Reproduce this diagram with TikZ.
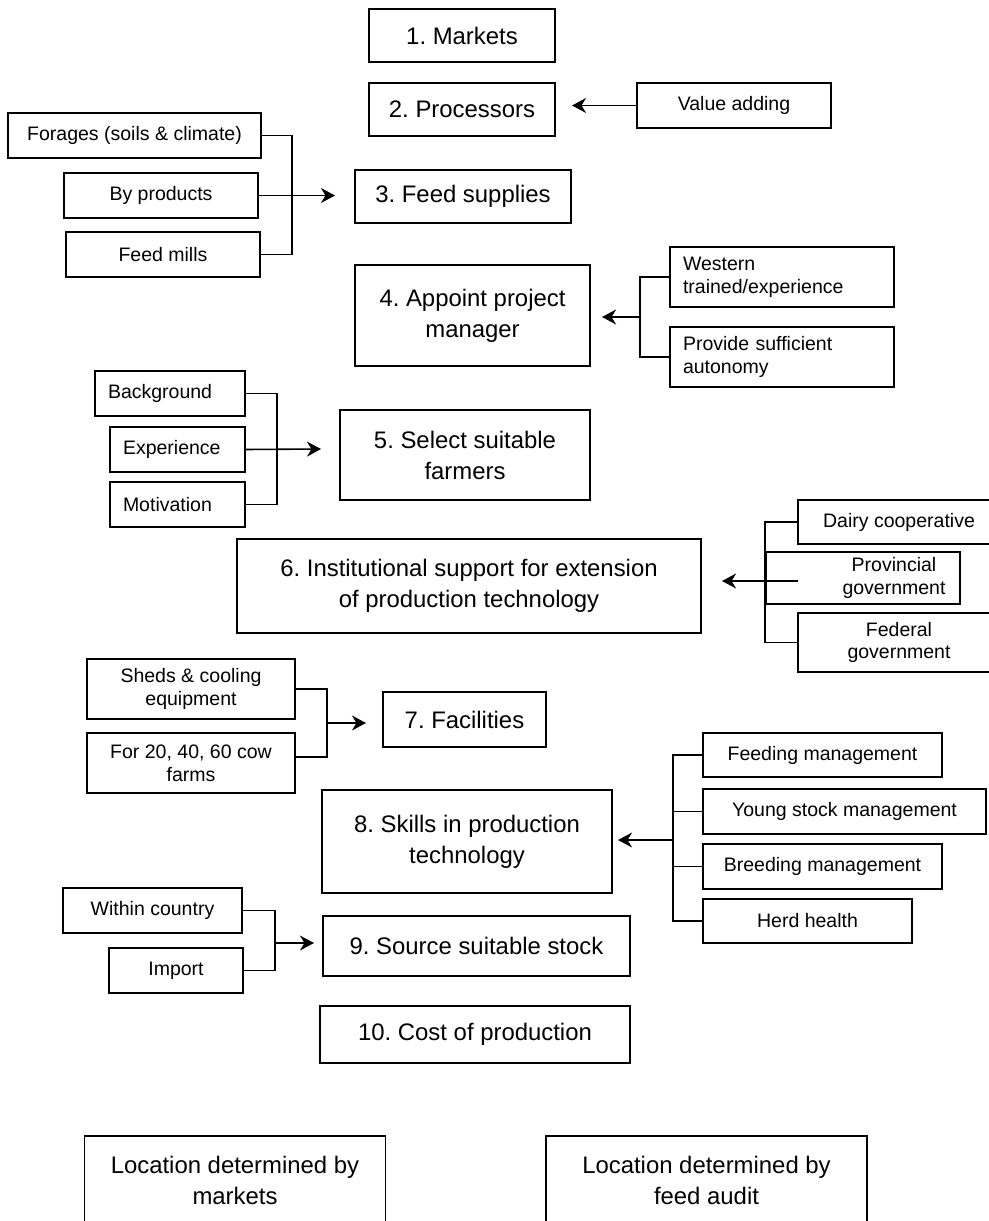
\documentclass[tikz,border=0pt]{standalone}
\usepackage{fontspec}
\setmainfont{Liberation Sans}
\usetikzlibrary{arrows.meta}
\frenchspacing

\begin{document}
\begin{tikzpicture}[
	mainbox/.style={rectangle, draw, line width=1pt, align=center, inner sep=0pt, font=\fontsize{13.6}{17.6}\selectfont},
	subbox/.style={rectangle, draw, line width=1pt, align=center, inner sep=0pt, font=\fontsize{11.1}{13}\selectfont},
	leftbox/.style={subbox, align=left, inner xsep=0.26cm},
	link/.style={line width=0.9pt},
	arr/.style={line width=0.9pt, -{Stealth[length=8pt,width=8.5pt]}}
	]
			\clip (0,0) rectangle (19.78,-24.42);
			
			\node[mainbox, minimum width=3.72cm, minimum height=1.06cm] (markets) at (9.24,-0.71) {1. Markets};
			
			\node[mainbox, minimum width=3.72cm, minimum height=1.06cm] (proc) at (9.24,-2.19) {2. Processors};
			\node[subbox, minimum width=3.88cm, minimum height=0.90cm] (value) at (14.68,-2.11) {Value adding};
			\coordinate (proctip) at (11.44,-2.11);
			\draw[arr] (value.west) -- (proctip);
			
			\node[subbox, minimum width=5.06cm, minimum height=0.90cm] (forages) at (2.69,-2.71) {Forages (soils \& climate)};
			\node[subbox, minimum width=3.88cm, minimum height=0.90cm] (byprod) at (3.22,-3.91) {By products};
			\node[subbox, minimum width=3.88cm, minimum height=0.90cm] (mills) at (3.26,-5.09) {Feed mills};
			\node[mainbox, minimum width=4.32cm, minimum height=1.06cm] (feed) at (9.26,-3.93) {3. Feed supplies};
			\coordinate (feedspine) at (5.84,-3.91);
			\coordinate (feedtip) at (6.70,-3.91);
			\draw[link] (forages.east) -| (feedspine) |- (mills.east);
			\draw[arr] (byprod.east) -- (feedtip);
			
			\node[mainbox, minimum width=4.70cm, minimum height=2.02cm] (manager) at (9.45,-6.31) {4. Appoint project\\manager};
			\node[leftbox, text width=3.96cm, minimum height=1.20cm] (western) at (15.64,-5.54) {Western\\trained/experience};
			\node[leftbox, text width=3.96cm, minimum height=1.20cm] (autonomy) at (15.64,-7.14) {Provide sufficient\\autonomy};
			\coordinate (mgrspine) at (12.80,-6.34);
			\coordinate (mgrtip) at (12.04,-6.34);
			\draw[link] (western.west) -| (mgrspine) |- (autonomy.west);
			\draw[arr] (mgrspine) -- (mgrtip);
			
			\node[leftbox, text width=2.48cm, minimum height=0.90cm] (background) at (3.40,-7.87) {Background};
			\node[leftbox, text width=2.18cm, minimum height=0.90cm] (experience) at (3.55,-8.99) {Experience};
			\node[leftbox, text width=2.18cm, minimum height=0.90cm] (motivation) at (3.55,-10.09) {Motivation};
			\node[mainbox, minimum width=5.00cm, minimum height=1.80cm] (farmers) at (9.30,-9.10) {5. Select suitable\\farmers};
			\coordinate (farmspine) at (5.54,-8.98);
			\coordinate (farmtip) at (6.42,-8.98);
			\draw[link] (background.east) -| (farmspine) |- (motivation.east);
			\draw[arr] (experience.east) -- (farmtip);
			
			\node[mainbox, minimum width=9.28cm, minimum height=1.88cm] (support) at (9.38,-11.72) {6. Institutional support for extension\\of production technology};
			\node[subbox, minimum width=4.04cm, minimum height=0.88cm] (dairy) at (17.98,-10.44) {Dairy cooperative};
			\node[subbox, minimum width=3.88cm, minimum height=1.04cm] (provincial) at (17.26,-11.56) {\hspace*{1.24cm}Provincial\\\hspace*{1.24cm}government};
			\node[subbox, minimum width=4.04cm, minimum height=1.18cm] (federal) at (17.98,-12.85) {Federal\\government};
			\coordinate (suppspine) at (15.30,-11.62);
			\coordinate (suppstart) at (15.96,-11.62);
			\coordinate (supptip) at (14.44,-11.62);
			\draw[link] (dairy.west) -| (suppspine) |- (federal.west);
			\draw[arr] (suppstart) -- (supptip);
			
			\node[subbox, minimum width=4.16cm, minimum height=1.20cm] (sheds) at (3.82,-13.78) {Sheds \& cooling\\equipment};
			\node[subbox, minimum width=4.16cm, minimum height=1.20cm] (cows) at (3.82,-15.26) {For 20, 40, 60 cow\\farms};
			\node[mainbox, minimum width=3.26cm, minimum height=1.10cm] (facilities) at (9.29,-14.39) {7. Facilities};
			\coordinate (facspine) at (6.54,-14.46);
			\coordinate (factip) at (7.32,-14.46);
			\draw[link] (sheds.east) -| (facspine) |- ([yshift=0.12cm]cows.east);
			\draw[arr] (facspine) -- (factip);
			
			\node[mainbox, minimum width=5.80cm, minimum height=2.06cm] (skills) at (9.34,-16.83) {8. Skills in production\\technology};
			\node[subbox, minimum width=4.78cm, minimum height=0.88cm] (feeding) at (16.45,-15.10) {Feeding management};
			\node[subbox, minimum width=5.66cm, minimum height=0.90cm] (young) at (16.89,-16.23) {Young stock management};
			\node[subbox, minimum width=4.78cm, minimum height=0.90cm] (breeding) at (16.45,-17.33) {Breeding management};
			\node[subbox, minimum width=4.18cm, minimum height=0.88cm] (health) at (16.15,-18.42) {Herd health};
			\coordinate (skillspine) at (13.46,-16.80);
			\coordinate (skilltip) at (12.36,-16.80);
			\draw[link] (feeding.west) -| (skillspine) |- (health.west);
			\draw[link] (young.west) -- (young.west -| skillspine);
			\draw[link] (breeding.west) -- (breeding.west -| skillspine);
			\draw[arr] (skillspine) -- (skilltip);
			
			\node[subbox, minimum width=3.58cm, minimum height=0.90cm] (within) at (3.05,-18.21) {Within country};
			\node[subbox, minimum width=2.68cm, minimum height=0.90cm] (import) at (3.52,-19.41) {Import};
			\node[mainbox, minimum width=6.14cm, minimum height=1.20cm] (stock) at (9.53,-18.92) {9. Source suitable stock};
			\coordinate (stockspine) at (5.50,-18.86);
			\coordinate (stocktip) at (6.28,-18.86);
			\draw[link] (within.east) -| (stockspine) |- (import.east);
			\draw[arr] (stockspine) -- (stocktip);
			
			\node[mainbox, minimum width=6.20cm, minimum height=1.14cm] (cost) at (9.50,-20.69) {10. Cost of production};
			
			\node[mainbox, minimum width=6.02cm, minimum height=1.76cm] (locmarkets) at (4.70,-23.60) {Location determined by\\markets};
			\node[mainbox, minimum width=6.42cm, minimum height=1.76cm] (locfeed) at (14.13,-23.60) {Location determined by\\feed audit};
		\end{tikzpicture}
\end{document}
